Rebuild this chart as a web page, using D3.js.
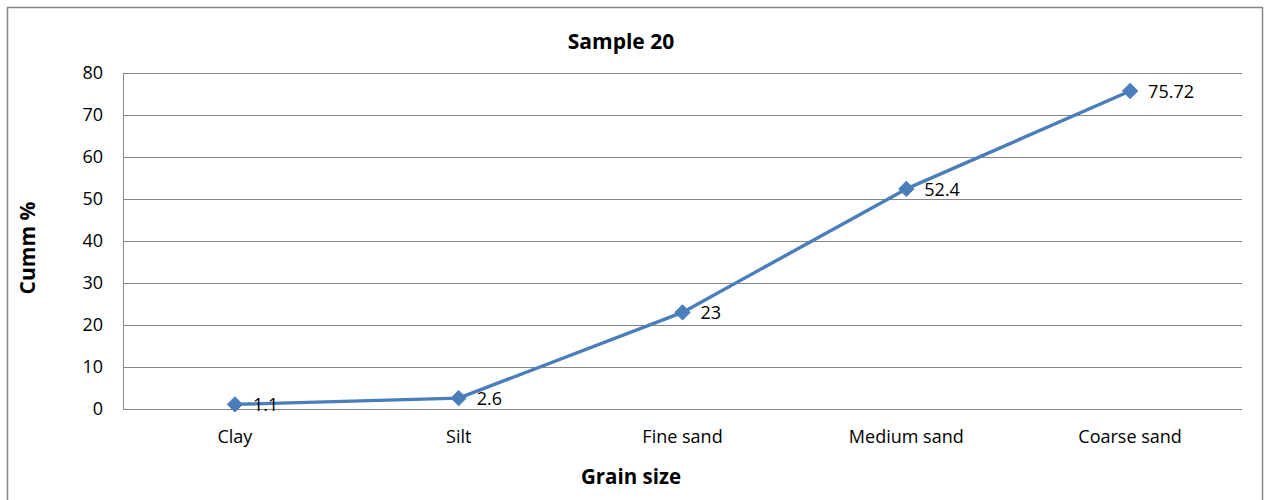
<!DOCTYPE html>
<html><head><meta charset="utf-8">
<script src="https://cdn.jsdelivr.net/npm/d3@7"></script>
<style>body{margin:0;background:#fff}svg{display:block}text{font-family:"Open Sans",sans-serif;fill:#000}</style>
</head><body><svg id="c" width="1265" height="500"></svg>
<script>
const categories = ["Clay","Silt","Fine sand","Medium sand","Coarse sand"];
const values = [1.1, 2.6, 23, 52.4, 75.72];
const labels = ["1.1","2.6","23","52.4","75.72"];
const yTicks = [0,10,20,30,40,50,60,70,80];
const title = "Sample 20";
const xTitle = "Grain size";
const yTitle = "Cumm %";

const FONT = "'Open Sans',sans-serif";
const svg = d3.select("#c");
const m = {l:123, r:1242, t:73, b:409};
svg.append("rect").attr("x",7.5).attr("y",7.5).attr("width",1255).attr("height",500)
  .attr("fill","#fff").attr("stroke","#868686").attr("stroke-width",1.5);

const x = d3.scaleBand().domain(categories).range([m.l,m.r]);
const y = d3.scaleLinear().domain([0,80]).range([m.b,m.t]);

svg.append("g").selectAll("line").data(yTicks).join("line")
  .attr("x1",m.l).attr("x2",m.r).attr("y1",d=>Math.round(y(d))+0.5).attr("y2",d=>Math.round(y(d))+0.5)
  .attr("stroke","#868686").attr("stroke-width",1);
svg.append("line").attr("x1",m.l+0.5).attr("x2",m.l+0.5).attr("y1",m.t).attr("y2",m.b)
  .attr("stroke","#868686");

const yAxis = svg.append("g").attr("transform",`translate(${m.l},0)`)
  .call(d3.axisLeft(y).tickValues(yTicks).tickSize(0).tickPadding(20));
yAxis.select(".domain").remove();
yAxis.selectAll("text").attr("font-size",18).attr("fill","#1a1a1a").style("font-family",FONT);

const xAxis = svg.append("g").attr("transform",`translate(0,${m.b})`)
  .call(d3.axisBottom(x).tickSize(0).tickPadding(21));
xAxis.select(".domain").remove();
xAxis.selectAll("text").attr("font-size",18).attr("fill","#1a1a1a").style("font-family",FONT);

const cx = d => x(d) + x.bandwidth()/2;
const pts = categories.map((c,i)=>[cx(c), y(values[i])]);
svg.append("path").attr("d", d3.line()(pts)).attr("fill","none")
  .attr("stroke","#4A7EBB").attr("stroke-width",3.4).attr("stroke-linejoin","round");
svg.append("g").selectAll("path").data(pts).join("path")
  .attr("d", d3.symbol(d3.symbolDiamond2, 150)())
  .attr("transform",d=>`translate(${d[0]},${d[1]})`)
  .attr("fill","#4A7EBB").attr("stroke","#4A7EBB").attr("stroke-width",1);
svg.append("g").selectAll("text").data(pts).join("text")
  .attr("x",d=>d[0]+18).attr("y",d=>d[1]+7).attr("font-size",18).attr("fill","#1a1a1a")
  .text((d,i)=>labels[i]);

svg.append("text").attr("x",621).attr("y",49).attr("text-anchor","middle")
  .attr("font-size",21).attr("font-weight","bold").text(title);
svg.append("text").attr("x",631).attr("y",484).attr("text-anchor","middle")
  .attr("font-size",20.5).attr("font-weight","bold").text(xTitle);
svg.append("text").attr("transform","translate(35,248) rotate(-90)").attr("text-anchor","middle")
  .attr("font-size",21).attr("font-weight","bold").text(yTitle);
</script></body></html>
